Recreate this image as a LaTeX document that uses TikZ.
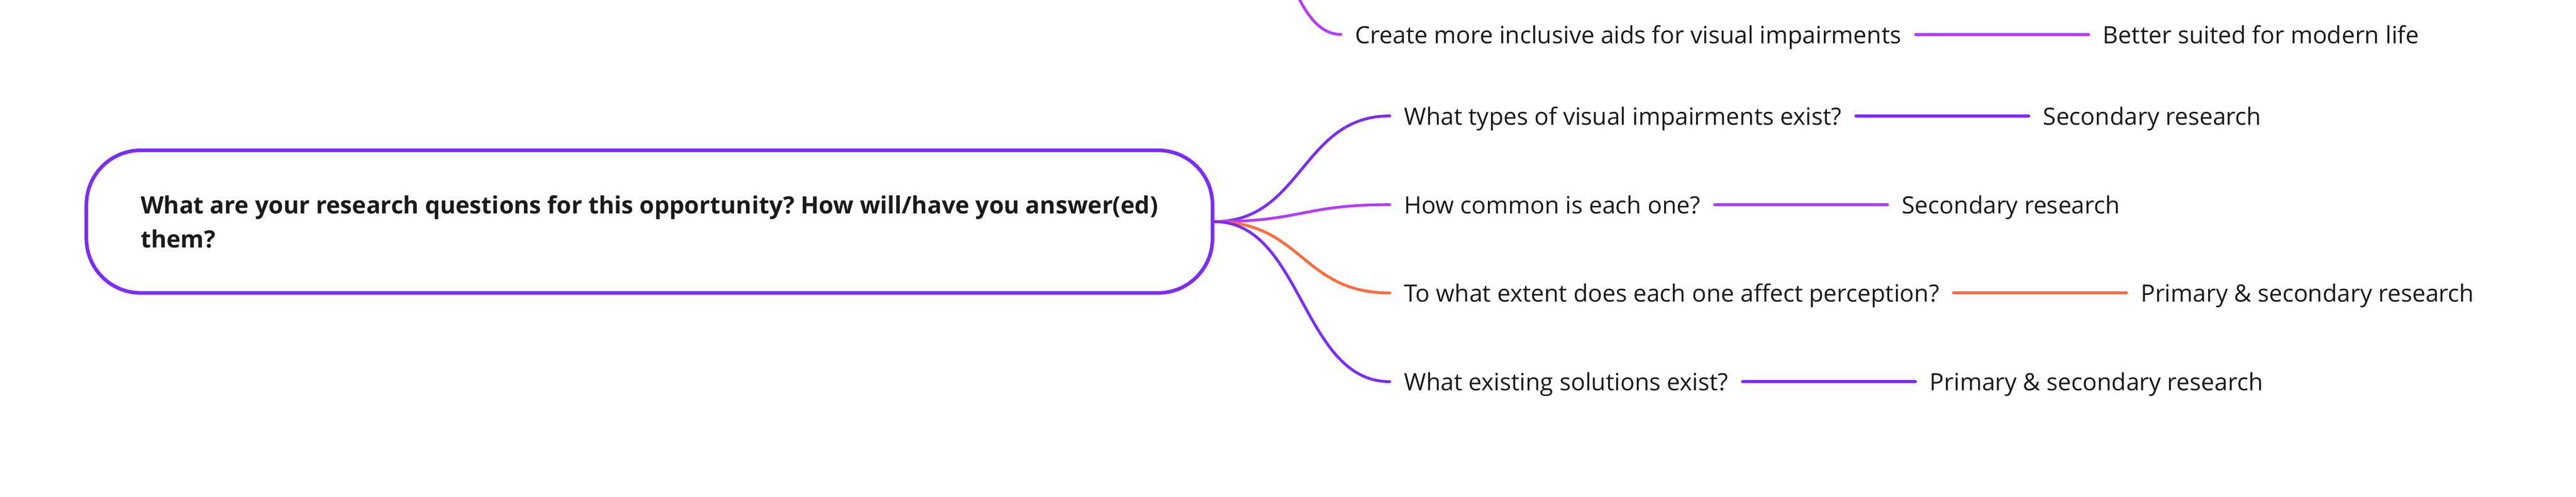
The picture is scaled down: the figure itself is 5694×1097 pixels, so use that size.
\documentclass[tikz,border=0pt]{standalone}
\usepackage{fontspec}
\setmainfont{Open Sans}
\frenchspacing
\definecolor{purp}{RGB}{123,44,247}
\definecolor{mag}{RGB}{179,61,250}
\definecolor{orng}{RGB}{255,107,61}
\definecolor{ink}{RGB}{26,26,26}
\begin{document}
\begin{tikzpicture}[x=0.25pt,y=-0.25pt,
  txt/.style={font=\fontsize{13.15}{16}\selectfont, text=ink, inner xsep=7.75pt, inner ysep=0pt, text height=11pt, text depth=1pt, anchor=west},
  curve/.style={line width=1.55pt, line cap=round},
  link/.style={line width=1.7pt, line cap=round},
  rootbox/.style={draw=purp, line width=2pt, rounded corners=30pt, fill=white, minimum width=622.25pt, minimum height=78.75pt, align=left, font=\fontsize{13.15}{18.75}\selectfont\bfseries, text=ink, inner sep=0pt}]
\useasboundingbox (0,0) rectangle (5694,1097);
\fill[white] (0,0) rectangle (5694,1097);
% root
\node[rootbox] (root) at (1435.5,489.5) {What are your research questions for this opportunity? How will/have you answer(ed)\\them?};
% children
\node[txt] (c1) at (2964,76) {Create more inclusive aids for visual impairments};
\node[txt] (d1) at ([xshift=95.5pt]c1.east) {Better suited for modern life};
\node[txt] (q1) at (3072,256) {What types of visual impairments exist?};
\node[txt] (a1) at ([xshift=95.5pt]q1.east) {Secondary research};
\node[txt] (q2) at (3072,452) {How common is each one?};
\node[txt] (a2) at ([xshift=95.5pt]q2.east) {Secondary research};
\node[txt] (q3) at (3072,647) {To what extent does each one affect perception?};
\node[txt] (a3) at ([xshift=95.5pt]q3.east) {Primary \& secondary research};
\node[txt] (q4) at (3072,843) {What existing solutions exist?};
\node[txt] (a4) at ([xshift=95.5pt]q4.east) {Primary \& secondary research};
% connectors
\begin{scope}
\clip (0,0) rectangle (5694,1097);
\coordinate (up) at (2682,-326);
\draw[curve, mag] (up) .. controls +(141,0) and +(-141,0) .. (c1.west);
\end{scope}
\draw[link, mag] (c1.east) -- (d1.west);
\draw[curve, purp] (root.east) .. controls +(195,0) and +(-195,0) .. (q1.west);
\draw[link, purp] (q1.east) -- (a1.west);
\draw[curve, mag] (root.east) .. controls +(195,0) and +(-195,0) .. (q2.west);
\draw[link, mag] (q2.east) -- (a2.west);
\draw[curve, orng] (root.east) .. controls +(195,0) and +(-195,0) .. (q3.west);
\draw[link, orng] (q3.east) -- (a3.west);
\draw[curve, purp] (root.east) .. controls +(195,0) and +(-195,0) .. (q4.west);
\draw[link, purp] (q4.east) -- (a4.west);
\end{tikzpicture}
\end{document}
